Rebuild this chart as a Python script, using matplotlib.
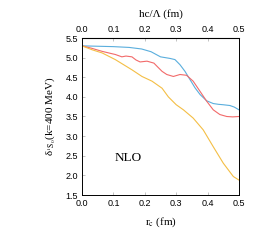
import matplotlib
matplotlib.use("Agg")
import matplotlib.pyplot as plt

# values
rc_blue = [0.0, 0.05, 0.10, 0.15, 0.19, 0.22, 0.25, 0.28, 0.296, 0.312, 0.328, 0.344, 0.36, 0.376,
           0.397, 0.418, 0.435, 0.449, 0.471, 0.485, 0.50]
d_blue = [5.30, 5.29, 5.28, 5.26, 5.22, 5.15, 5.02, 4.98, 4.95, 4.82, 4.65, 4.44, 4.23, 4.06,
          3.90, 3.83, 3.81, 3.80, 3.78, 3.74, 3.67]

rc_red = [0.0, 0.03, 0.064, 0.09, 0.106, 0.127, 0.14, 0.159, 0.172, 0.185, 0.207, 0.229, 0.24, 0.255,
          0.27, 0.291, 0.312, 0.333, 0.354, 0.376, 0.397, 0.418, 0.439, 0.461, 0.48, 0.50]
d_red = [5.30, 5.24, 5.16, 5.11, 5.08, 5.02, 5.04, 5.02, 4.94, 4.89, 4.91, 4.86, 4.77, 4.65,
         4.57, 4.52, 4.57, 4.55, 4.40, 4.14, 3.89, 3.67, 3.55, 3.50, 3.49, 3.50]

rc_yel = [0.0, 0.032, 0.064, 0.106, 0.159, 0.191, 0.223, 0.255, 0.275, 0.30, 0.323, 0.354, 0.386,
          0.418, 0.45, 0.482, 0.50]
d_yel = [5.30, 5.20, 5.12, 4.95, 4.69, 4.52, 4.40, 4.22, 4.00, 3.80, 3.67, 3.46, 3.16,
         2.73, 2.31, 1.97, 1.88]

ticks_x = [0.0, 0.1, 0.2, 0.3, 0.4, 0.5]
ticks_y = [1.5, 2.0, 2.5, 3.0, 3.5, 4.0, 4.5, 5.0, 5.5]

plt.rcParams['mathtext.fontset'] = 'stix'
serif = 'Liberation Serif'
sans = 'Liberation Sans'

fig = plt.figure(figsize=(2.75, 2.45), dpi=100)
ax = fig.add_axes([82 / 275, 1 - 195 / 245, 157 / 275, 157 / 245])

ax.plot(rc_blue, d_blue, color='#5AAEDD', lw=0.8)
ax.plot(rc_red, d_red, color='#F26A6A', lw=0.8)
ax.plot(rc_yel, d_yel, color='#F4BE45', lw=0.8)

ax.set_xlim(0, 0.5)
ax.set_ylim(1.5, 5.5)
ax.set_xticks(ticks_x)
ax.set_yticks(ticks_y)
ax.set_xticklabels([f'{v:.1f}' for v in ticks_x], family=sans, fontsize=6.5)
ax.set_yticklabels([f'{v:.1f}' for v in ticks_y], family=sans, fontsize=6.5)
ax.tick_params(direction='in', length=2, width=0.5, color='#aaaaaa', pad=3)
for s in ax.spines.values():
    s.set_linewidth(0.7)

ax.set_xlabel(r'r$_\mathrm{c}$ (fm)', family=serif, fontsize=8, labelpad=5)
ax.set_ylabel('δ' + r'$_{{}^1\mathrm{S}_0}$' + '(k=400 MeV)', family=serif, fontsize=8, labelpad=5)

top = ax.secondary_xaxis('top')
top.set_xticks(ticks_x)
top.set_xticklabels([f'{v:.1f}' for v in ticks_x], family=sans, fontsize=6.5)
top.tick_params(direction='in', length=2, width=0.5, color='#aaaaaa', pad=3)
top.set_xlabel('hc/Λ (fm)', family=serif, fontsize=8, labelpad=6)

ax.text(0.105, 2.37, 'NLO', family=serif, fontsize=9.5)

fig.savefig('out.png', dpi=100)
